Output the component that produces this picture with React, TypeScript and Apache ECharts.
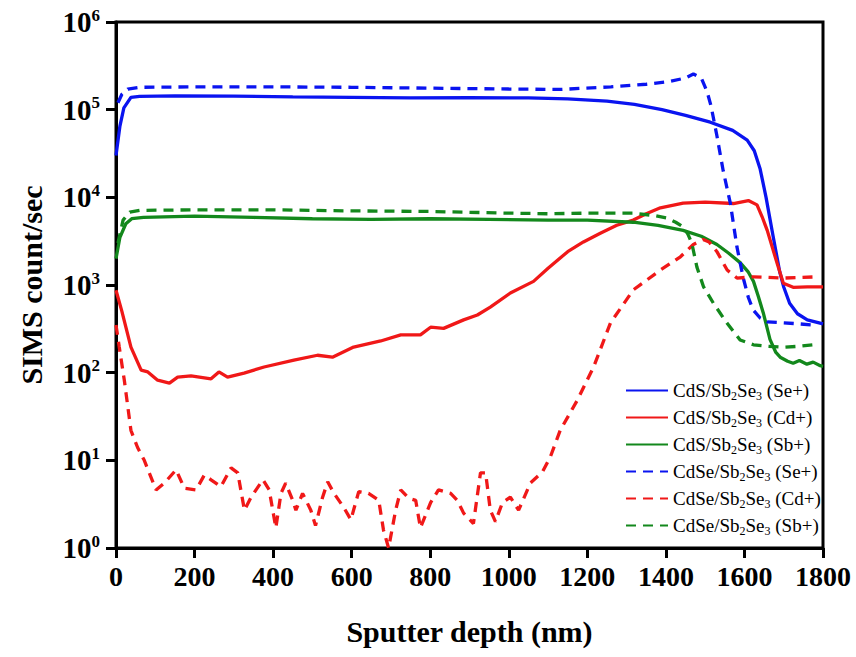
import React, { useEffect, useRef } from "react";
import * as echarts from "echarts";

// SIMS depth profiles: [sputter depth (nm), counts/sec]
const cdsSe: [number, number][] = [
  [0, 3.0e4], [10, 6.5e4], [20, 1.05e5], [38, 1.38e5], [60, 1.42e5], [150, 1.44e5],
  [300, 1.43e5], [450, 1.4e5], [600, 1.38e5], [750, 1.36e5], [900, 1.37e5], [1050, 1.36e5],
  [1150, 1.33e5], [1250, 1.25e5], [1320, 1.15e5], [1390, 1.0e5], [1450, 8.6e4], [1513, 7.2e4],
  [1570, 5.8e4], [1607, 4.5e4], [1625, 3.4e4], [1640, 2.1e4], [1655, 1.0e4], [1673, 3.6e3],
  [1690, 1.4e3], [1700, 950], [1715, 620], [1735, 470], [1760, 400], [1800, 360],
];

const cdsCd: [number, number][] = [
  [0, 870], [15, 500], [38, 196], [64, 107], [81, 102], [106, 82], [136, 76], [157, 89],
  [191, 92], [242, 85], [262, 102], [284, 89], [326, 99], [377, 116], [453, 139], [513, 158],
  [551, 150], [605, 196], [674, 230], [725, 270], [775, 270], [801, 330], [834, 320],
  [885, 400], [920, 455], [953, 560], [1004, 810], [1063, 1100], [1100, 1550], [1150, 2400],
  [1190, 3100], [1233, 3900], [1275, 4800], [1317, 5500], [1350, 6500], [1386, 7600],
  [1444, 8600], [1500, 8800], [1572, 8500], [1610, 9200], [1632, 8200], [1645, 6000],
  [1658, 4200], [1683, 1780], [1699, 1050], [1724, 940], [1760, 950], [1800, 950],
];

const cdsSb: [number, number][] = [
  [0, 2000], [10, 3500], [25, 5000], [40, 5700], [70, 5900], [200, 6100], [350, 5900],
  [500, 5700], [650, 5600], [800, 5700], [950, 5600], [1100, 5500], [1200, 5500],
  [1317, 5200], [1380, 4800], [1444, 4200], [1490, 3600], [1530, 2900], [1560, 2300],
  [1589, 1800], [1610, 1400], [1623, 1100], [1635, 750], [1648, 480], [1665, 240],
  [1680, 170], [1691, 150], [1710, 135], [1724, 128], [1740, 138], [1759, 125], [1775, 132],
  [1793, 120], [1800, 118],
];

const cdseSe: [number, number][] = [
  [5, 1.2e5], [15, 1.5e5], [30, 1.72e5], [60, 1.8e5], [200, 1.82e5], [400, 1.82e5],
  [600, 1.8e5], [800, 1.76e5], [1000, 1.72e5], [1130, 1.7e5], [1260, 1.82e5], [1350, 1.95e5],
  [1410, 2.1e5], [1450, 2.3e5], [1470, 2.55e5], [1490, 2.3e5], [1505, 1.6e5], [1515, 1.1e5],
  [1530, 5.0e4], [1546, 2.0e4], [1564, 8.6e3], [1581, 2.7e3], [1597, 1200], [1610, 720],
  [1622, 520], [1640, 420], [1658, 380], [1700, 370], [1740, 360], [1775, 350],
];

const cdseCd: [number, number][] = [
  [0, 350], [8, 200], [21, 83], [38, 22], [55, 14], [72, 10], [102, 4.6], [123, 5.5],
  [153, 7.8], [174, 4.8], [204, 4.6], [225, 6.8], [242, 6.0], [267, 5.0], [293, 8.2],
  [310, 7.2], [327, 2.7], [344, 3.8], [374, 6.0], [390, 4.6], [407, 1.7], [420, 4.2],
  [432, 5.5], [450, 3.5], [458, 2.7], [475, 4.2], [496, 2.7], [508, 1.8], [526, 3.8],
  [539, 5.7], [555, 4.2], [580, 2.9], [598, 2.1], [618, 4.4], [643, 4.2], [669, 3.5],
  [681, 1.6], [694, 1.0], [712, 2.7], [725, 4.6], [745, 3.7], [763, 3.5], [775, 1.7],
  [801, 3.3], [821, 4.6], [852, 4.2], [869, 3.5], [885, 2.5], [910, 1.9], [928, 7.2],
  [941, 7.2], [953, 2.7], [966, 2.0], [984, 3.3], [1004, 3.8], [1025, 2.7], [1055, 5.5],
  [1086, 7.4], [1106, 11], [1131, 22], [1175, 49], [1216, 116], [1259, 370], [1317, 880],
  [1386, 1480], [1437, 2100], [1470, 2900], [1495, 3300], [1510, 3100], [1530, 2400],
  [1556, 1480], [1581, 1200], [1623, 1240], [1699, 1200], [1785, 1240],
];

const cdseSb: [number, number][] = [
  [5, 3000], [18, 5500], [35, 6800], [60, 7100], [200, 7200], [400, 7200], [600, 7000],
  [800, 6900], [1000, 6600], [1100, 6500], [1200, 6600], [1317, 6600], [1370, 6200],
  [1402, 5800], [1425, 5200], [1444, 4600], [1456, 3800], [1466, 3000], [1479, 1600],
  [1496, 950], [1521, 620], [1555, 370], [1589, 236], [1623, 208], [1660, 200], [1700, 195],
  [1740, 200], [1775, 208],
];

const seriesNames = [
  "CdS/Sb2Se3 (Se+)",
  "CdS/Sb2Se3 (Cd+)",
  "CdS/Sb2Se3 (Sb+)",
  "CdSe/Sb2Se3 (Se+)",
  "CdSe/Sb2Se3 (Cd+)",
  "CdSe/Sb2Se3 (Sb+)",
];

const BLUE = "#0a14f0";
const RED = "#f01818";
const GREEN = "#13881c";
const SERIF = "'Liberation Serif', 'Times New Roman', serif";
const DASH = [10, 7];

function line(name: string, data: [number, number][], color: string, dashed: boolean) {
  return {
    name,
    type: "line",
    data,
    showSymbol: false,
    symbol: "none",
    color,
    lineStyle: { color, width: 3.3, type: dashed ? DASH : "solid" },
    z: dashed ? 3 : 2,
  };
}

export default function App() {
  const ref = useRef<HTMLDivElement>(null);

  useEffect(() => {
    if (!ref.current) return;
    const chart = echarts.init(ref.current, null, { renderer: "svg" });
    chart.setOption({
      animation: false,
      backgroundColor: "#fff",
      grid: {
        left: 116,
        right: 33,
        top: 22,
        bottom: 109,
        show: true,
        borderColor: "#000",
        borderWidth: 3,
        outerBoundsMode: "none",
      },
      legend: {
        orient: "vertical",
        left: 620,
        top: 376,
        itemWidth: 42,
        itemHeight: 12,
        itemGap: 6.5,
        itemStyle: { opacity: 0 },
        data: seriesNames,
        formatter: (n: string) => n.replace("Sb2Se3", "Sb{sub|2}Se{sub|3}"),
        textStyle: {
          fontFamily: SERIF,
          fontSize: 19,
          color: "#000",
          rich: {
            sub: { fontFamily: SERIF, fontSize: 12, color: "#000", padding: [10, 0, 0, 0] },
          },
        },
      },
      xAxis: {
        type: "value",
        min: 0,
        max: 1800,
        interval: 200,
        name: "Sputter depth (nm)",
        nameLocation: "middle",
        nameGap: 68,
        nameTextStyle: { fontFamily: SERIF, fontWeight: "bold", fontSize: 30, color: "#000" },
        axisLine: { lineStyle: { color: "#000", width: 3 } },
        axisTick: { inside: false, length: 10, lineStyle: { color: "#000", width: 3 } },
        axisLabel: {
          margin: 14,
          formatter: (v: number) => String(v),
          fontFamily: SERIF,
          fontWeight: "bold",
          fontSize: 28,
          color: "#000",
        },
        splitLine: { show: false },
      },
      yAxis: {
        type: "log",
        logBase: 10,
        min: 1,
        max: 1e6,
        name: "SIMS count/sec",
        nameLocation: "middle",
        nameGap: 70,
        nameTextStyle: { fontFamily: SERIF, fontWeight: "bold", fontSize: 30, color: "#000" },
        axisLine: { lineStyle: { color: "#000", width: 3 } },
        axisTick: { inside: false, length: 10, lineStyle: { color: "#000", width: 3 } },
        axisLabel: {
          margin: 16,
          formatter: (v: number) => `{b|10}{s|${Math.round(Math.log10(v))}}`,
          rich: {
            b: { fontFamily: SERIF, fontWeight: "bold", fontSize: 29, color: "#000" },
            s: { fontFamily: SERIF, fontWeight: "bold", fontSize: 17, color: "#000", padding: [0, 0, 14, 0] },
          },
        },
        splitLine: { show: false },
        minorTick: { show: false },
      },
      series: [
        line(seriesNames[0], cdsSe, BLUE, false),
        line(seriesNames[1], cdsCd, RED, false),
        line(seriesNames[2], cdsSb, GREEN, false),
        line(seriesNames[3], cdseSe, BLUE, true),
        line(seriesNames[4], cdseCd, RED, true),
        line(seriesNames[5], cdseSb, GREEN, true),
      ],
    });
    return () => chart.dispose();
  }, []);

  return <div ref={ref} style={{ width: 856, height: 657, position: "absolute", left: 0, top: 0 }} />;
}
